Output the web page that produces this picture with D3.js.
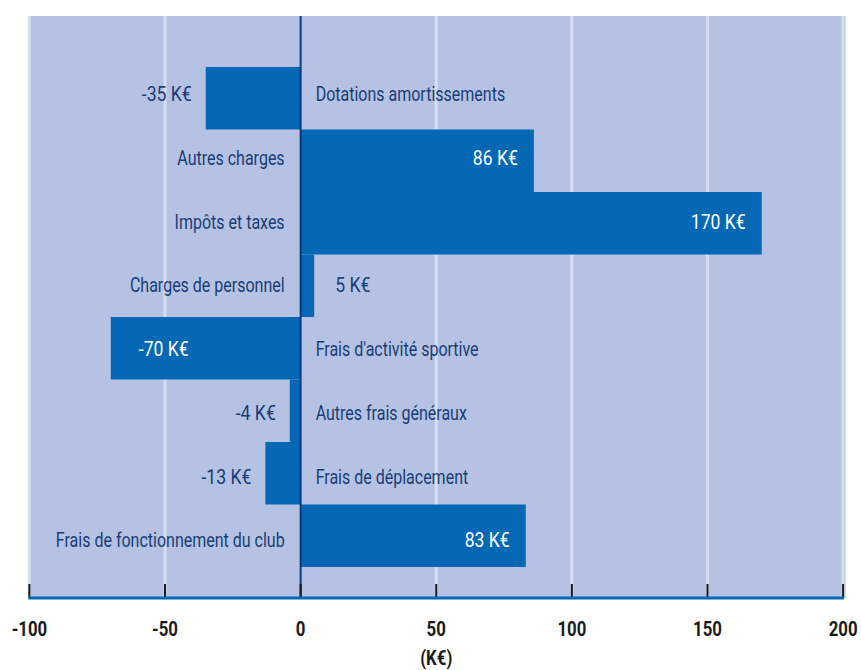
<!DOCTYPE html>
<html>
<head>
<meta charset="utf-8">
<script src="https://cdn.jsdelivr.net/npm/d3@7"></script>
<style>
  html, body { margin: 0; padding: 0; background: #ffffff; }
  svg { display: block; }
  text { font-family: Roboto, "Liberation Sans", sans-serif; }
</style>
</head>
<body>
<svg id="chart" width="861" height="670"></svg>
<script>
// Écarts par poste de charges (K€)
const categories = [
  "Dotations amortissements",
  "Autres charges",
  "Impôts et taxes",
  "Charges de personnel",
  "Frais d'activité sportive",
  "Autres frais généraux",
  "Frais de déplacement",
  "Frais de fonctionnement du club"
];
const values = [-35, 86, 170, 5, -70, -4, -13, 83];
const tickValues = [-100, -50, 0, 50, 100, 150, 200];
const axisTitle = "(K€)";

const colors = {
  plotBg: "#b5c2e3",
  grid: "#d8def1",
  bar: "#0468b4",
  zero: "#0b3a7e",
  text: "#183d77",
  axis: "#0468b4",
  ink: "#1a1a1a"
};

const svg = d3.select("#chart");
const plot = { left: 29.4, right: 843.1, top: 16, bottom: 598 };

const x = d3.scaleLinear().domain([-100, 200]).range([plot.left, plot.right]);
const y = d3.scaleBand().domain(categories).range([67, 567]).padding(0);
// lignes des libellés, légèrement plus espacées que les barres
const yLabel = d3.scaleBand().domain(categories).range([62, 572]).padding(0);

// police condensée simulée : texte réel compressé horizontalement
function placeText(sel, fx, fy, sx) {
  sel.attr("x", 0).attr("y", 0)
    .attr("transform", d => `translate(${fx(d)},${fy(d)}) scale(${sx},1)`);
}

// fond de la zone de tracé
svg.append("rect")
  .attr("x", plot.left - 1.5).attr("y", plot.top)
  .attr("width", plot.right - plot.left + 4).attr("height", plot.bottom - plot.top)
  .attr("fill", colors.plotBg);

// quadrillage vertical
svg.append("g").selectAll("line")
  .data(tickValues.filter(d => d !== 0))
  .join("line")
  .attr("x1", d => x(d)).attr("x2", d => x(d))
  .attr("y1", plot.top).attr("y2", plot.bottom)
  .attr("stroke", colors.grid).attr("stroke-width", 3);

// barres
const rows = categories.map((c, i) => ({ cat: c, v: values[i] }));
svg.append("g").selectAll("rect")
  .data(rows)
  .join("rect")
  .attr("x", d => x(Math.min(0, d.v)))
  .attr("y", d => y(d.cat))
  .attr("width", d => Math.abs(x(d.v) - x(0)))
  .attr("height", y.bandwidth())
  .attr("fill", colors.bar);

// ligne du zéro
svg.append("line")
  .attr("x1", x(0)).attr("x2", x(0))
  .attr("y1", plot.top).attr("y2", plot.bottom)
  .attr("stroke", colors.zero).attr("stroke-width", 2);

const fontSize = 20;
const fmt = v => `${v} K€`;
const rowMid = d => yLabel(d.cat) + yLabel.bandwidth() / 2 + 0.36 * fontSize;

// libellés de catégories : du côté opposé à la barre
svg.append("g").selectAll("text")
  .data(rows)
  .join("text")
  .attr("text-anchor", d => d.v >= 0 ? "end" : "start")
  .attr("font-size", fontSize)
  .attr("fill", colors.text)
  .text(d => d.cat)
  .call(placeText, d => d.v >= 0 ? x(0) - 16 : x(0) + 15, rowMid, 0.8);

// étiquettes de valeur : dans la barre si elle est assez longue, sinon à l'extérieur
const insideMin = 60;
const isInside = d => Math.abs(d.v) >= insideMin;
const valueX = d => {
  if (d.v >= 0) return isInside(d) ? x(d.v) - 16 : x(d.v) + 21;
  return isInside(d) ? x(d.v) + 28 : x(d.v) - 14;
};
const valueAnchor = d => (d.v >= 0) === isInside(d) ? "end" : "start";
svg.append("g").selectAll("text")
  .data(rows)
  .join("text")
  .attr("text-anchor", valueAnchor)
  .attr("fill", d => isInside(d) ? "#ffffff" : colors.text)
  .attr("font-size", fontSize)
  .text(d => fmt(d.v))
  .call(placeText, valueX, rowMid, 0.88);

// graduations (traits verticaux montants)
svg.append("g").selectAll("line")
  .data(tickValues)
  .join("line")
  .attr("x1", d => x(d)).attr("x2", d => x(d))
  .attr("y1", plot.bottom - 14).attr("y2", plot.bottom)
  .attr("stroke", colors.ink).attr("stroke-width", 2);

// ligne d'axe
svg.append("line")
  .attr("x1", plot.left - 1).attr("x2", plot.right + 1)
  .attr("y1", plot.bottom).attr("y2", plot.bottom)
  .attr("stroke", colors.axis).attr("stroke-width", 3);

// libellés de l'axe
const axis = d3.axisBottom(x).tickValues(tickValues).tickSize(0).tickFormat(d => String(d));
const gAxis = svg.append("g").attr("transform", `translate(0,${plot.bottom})`).call(axis);
gAxis.select(".domain").remove();
gAxis.selectAll(".tick").attr("transform", null);
gAxis.selectAll(".tick text")
  .attr("font-size", 21)
  .attr("font-weight", "bold")
  .attr("fill", colors.ink)
  .attr("text-anchor", "middle")
  .attr("dy", null)
  .style("font-family", "Roboto, sans-serif")
  .call(placeText, d => x(d), () => 37.5, 0.8);

svg.append("text")
  .attr("text-anchor", "middle")
  .attr("font-size", 21)
  .attr("font-weight", "bold")
  .attr("fill", colors.ink)
  .datum(axisTitle)
  .text(d => d)
  .call(placeText, () => (plot.left + plot.right) / 2, () => 665, 0.8);
</script>
</body>
</html>
